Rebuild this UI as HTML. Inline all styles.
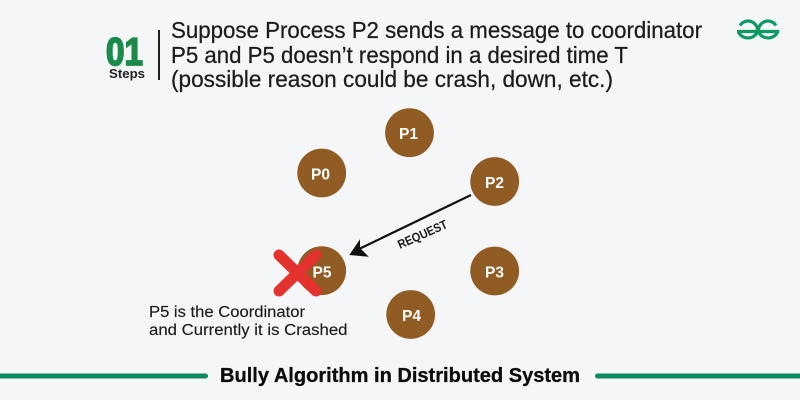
<!DOCTYPE html>
<html>
<head>
<meta charset="utf-8">
<style>
html,body{margin:0;padding:0;background:#f4f6f8;}
svg{display:block;}
text{font-family:"Liberation Sans",sans-serif;}
</style>
</head>
<body>
<svg width="800" height="400" viewBox="0 0 800 400" xmlns="http://www.w3.org/2000/svg">
<rect width="800" height="400" fill="#f4f6f8"/>

<!-- header -->
<text x="106" y="65" font-size="39" font-weight="700" fill="#1b8a4b" textLength="37" lengthAdjust="spacingAndGlyphs" stroke="#1b8a4b" stroke-width="1.8">01</text>
<text x="109" y="78" font-size="13" font-weight="700" fill="#222" textLength="36" lengthAdjust="spacingAndGlyphs">Steps</text>
<rect x="158" y="30" width="2" height="50" fill="#222"/>
<g font-size="23" fill="#1c1c1c" stroke="#1c1c1c" stroke-width="0.25">
<text x="171" y="38" textLength="531" lengthAdjust="spacingAndGlyphs">Suppose Process P2 sends a message to coordinator</text>
<text x="171" y="63" textLength="457" lengthAdjust="spacingAndGlyphs">P5 and P5 doesn’t respond in a desired time T</text>
<text x="171" y="87" textLength="442" lengthAdjust="spacingAndGlyphs">(possible reason could be crash, down, etc.)</text>
</g>

<!-- logo -->
<g fill="none" stroke="#0f9a64" stroke-width="3.2">
<path d="M740 25.5 A9.5 9.5 0 0 1 757.5 31.5 A10 9 0 0 1 738.5 32"/>
<path d="M776 25.5 A9.5 9.5 0 0 0 758.5 31.5 A10 9 0 0 0 777.5 32"/>
<path d="M737 31.5 H779"/>
</g>

<!-- nodes -->
<g fill="#915c23">
<circle cx="409.5" cy="132.7" r="24.4"/>
<circle cx="321.7" cy="173" r="24.4"/>
<circle cx="494.7" cy="181.5" r="24.4"/>
<circle cx="494.7" cy="271" r="24.4"/>
<circle cx="410.7" cy="314.5" r="24.4"/>
<circle cx="321.7" cy="270.7" r="24.4"/>
</g>

<!-- crash X -->
<g stroke="#e4322e" stroke-width="11" stroke-linecap="round">
<path d="M279 255 L316 291"/>
<path d="M316 255 L279 291"/>
</g>

<g fill="#fff" font-size="15.5" font-weight="700" text-anchor="middle">
<text x="408.5" y="139">P1</text>
<text x="320.5" y="179.5">P0</text>
<text x="494.5" y="188">P2</text>
<text x="494.5" y="277.5">P3</text>
<text x="411.5" y="321">P4</text>
<text x="322" y="277.5">P5</text>
</g>

<!-- arrow -->
<path d="M471 195 L358 249.5" stroke="#111" stroke-width="2.2" fill="none"/>
<path d="M349.3 255 L360 239.3 L360 248 L368.7 256.7 Z" fill="#111"/>
<text x="0" y="0" font-size="12.5" font-weight="700" fill="#1c1c1c" textLength="53" lengthAdjust="spacingAndGlyphs" transform="translate(400 249) rotate(-24)">REQUEST</text>

<!-- footnote -->
<g font-size="15.5" fill="#1c1c1c" stroke="#1c1c1c" stroke-width="0.15">
<text x="149" y="317" textLength="156" lengthAdjust="spacingAndGlyphs">P5 is the Coordinator</text>
<text x="149" y="335" textLength="198.5" lengthAdjust="spacingAndGlyphs">and Currently it is Crashed</text>
</g>

<!-- footer -->
<rect x="-5" y="373.5" width="213" height="5" rx="2.5" fill="#0f8a5f"/>
<rect x="595" y="373.5" width="215" height="5" rx="2.5" fill="#0f8a5f"/>
<text x="220" y="382" font-size="20" font-weight="700" fill="#0c0c0c" stroke="#0c0c0c" stroke-width="0.3" textLength="360" lengthAdjust="spacingAndGlyphs">Bully Algorithm in Distributed System</text>
</svg>
</body>
</html>
